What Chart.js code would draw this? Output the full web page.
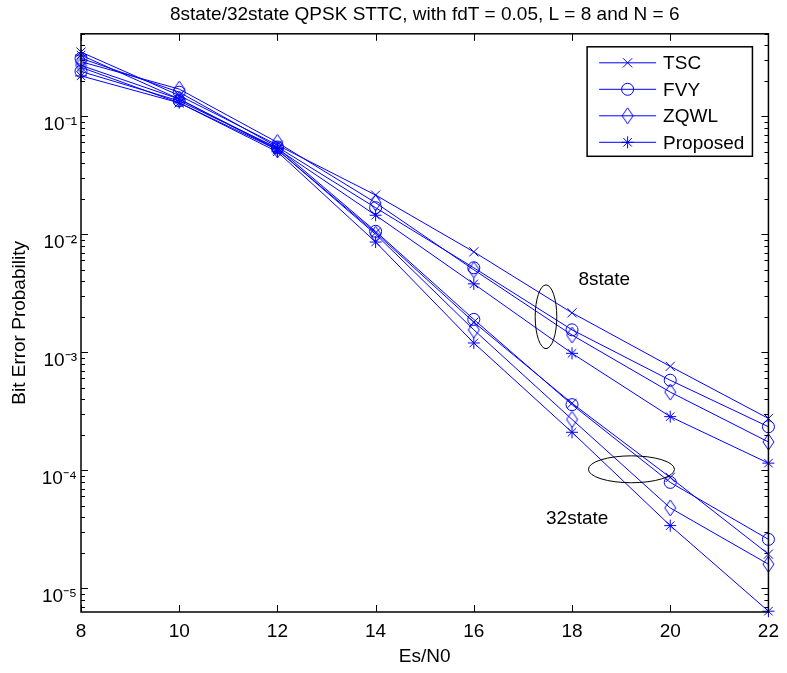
<!DOCTYPE html>
<html>
<head>
<meta charset="utf-8">
<script src="https://cdn.jsdelivr.net/npm/chart.js@4.4.1/dist/chart.umd.min.js"></script>
<style>
html,body{margin:0;padding:0;background:#fff;}
#wrap{width:787px;height:673px;}
</style>
</head>
<body>
<div id="wrap"><canvas id="c" width="787" height="673"></canvas></div>
<script>
// ---------- data ----------
const esn0 = [8, 10, 12, 14, 16, 18, 20, 22];
const tsc8   = [0.35, 0.15, 0.057, 0.0215, 0.0071, 0.00216, 0.00076, 0.000275];
const fvy8   = [0.31, 0.16, 0.055, 0.0168, 0.0052, 0.00155, 0.00058, 0.000234];
const zqwl8  = [0.29, 0.17, 0.060, 0.0185, 0.0050, 0.0014, 0.00046, 0.000174];
const prop8  = [0.33, 0.14, 0.053, 0.0145, 0.0038, 0.00098, 0.000285, 0.000115];
const tsc32  = [0.26, 0.13, 0.052, 0.0103, 0.0018, 0.00037, 0.000087, 0.0000195];
const fvy32  = [0.24, 0.135, 0.054, 0.0106, 0.0019, 0.00036, 0.000079, 0.000026];
const zqwl32 = [0.27, 0.14, 0.052, 0.0100, 0.00155, 0.00027, 0.000048, 0.000016];
const prop32 = [0.22, 0.13, 0.050, 0.0086, 0.0012, 0.00021, 0.000034, 0.0000064];

const methodNames = ['TSC', 'FVY', 'ZQWL', 'Proposed'];
const xTickValues = [8, 10, 12, 14, 16, 18, 20, 22];
const yTickValues = [1e-5, 1e-4, 1e-3, 1e-2, 1e-1];
const yTickLabels = ['10\u207B\u2075', '10\u207B\u2074', '10\u207B\u00B3', '10\u207B\u00B2', '10\u207B\u00B9'];
const titleText = '8state/32state QPSK STTC, with fdT = 0.05, L = 8 and N = 6';
const xTitle = 'Es/N0';
const yTitle = 'Bit Error Probability';
const annotationTexts = ['8state', '32state'];
const annotationX = [18.13, 17.47];
const annotationY = [0.00411, 0.0000388];
const ellipseCX = [17.47, 19.21];
const ellipseCY = [0.0020, 0.000102];
const ellipseHalfX = [0.22, 0.876];     // in Es/N0 units
const ellipseHalfDec = [0.27, 0.114];   // in decades

// ---------- styles ----------
const BLUE = '#0000FF';
const FONT = '"Liberation Sans", Arial, Helvetica, sans-serif';
function makeDiamond(w, h) {
  const c = document.createElement('canvas');
  c.width = w + 2; c.height = h + 2;
  const g = c.getContext('2d');
  g.strokeStyle = BLUE; g.lineWidth = 1;
  g.beginPath();
  g.moveTo(c.width / 2, 1);
  g.lineTo(c.width - 1, c.height / 2);
  g.lineTo(c.width / 2, c.height - 1);
  g.lineTo(1, c.height / 2);
  g.closePath();
  g.stroke();
  return c;
}
const diamondImg = makeDiamond(11, 16);
const markerStyles = [
  {pointStyle: 'crossRot', radius: 6.5},
  {pointStyle: 'circle', radius: 6},
  {pointStyle: diamondImg, radius: 8},
  {pointStyle: 'star', radius: 6}
];

const seriesValues = [tsc8, fvy8, zqwl8, prop8, tsc32, fvy32, zqwl32, prop32];
const seriesGroup = ['8state', '8state', '8state', '8state', '32state', '32state', '32state', '32state'];

const datasets = seriesValues.map((vals, i) => {
  const m = markerStyles[i % 4];
  return {
    label: methodNames[i % 4] + ' (' + seriesGroup[i] + ')',
    data: esn0.map((x, j) => ({x: x, y: vals[j]})),
    borderColor: BLUE,
    borderWidth: 1,
    pointStyle: m.pointStyle,
    pointRadius: m.radius,
    pointHoverRadius: m.radius,
    pointBorderColor: BLUE,
    pointBackgroundColor: 'rgba(0,0,0,0)',
    pointBorderWidth: 1,
    tension: 0,
    clip: false,
    fill: false
  };
});

// ---------- plugin: MATLAB-like box, inward ticks, ellipses, texts, legend ----------
const matlabDecor = {
  id: 'matlabDecor',
  afterDatasetsDraw(chart) {
    const {ctx, chartArea: a, scales: {x, y}} = chart;
    ctx.save();
    // axes box
    ctx.strokeStyle = '#000';
    ctx.lineWidth = 1.5;
    ctx.strokeRect(a.left, a.top, a.right - a.left, a.bottom - a.top);
    // ticks
    ctx.lineWidth = 1;
    ctx.beginPath();
    xTickValues.forEach(v => {
      const px = Math.round(x.getPixelForValue(v)) + 0.5;
      ctx.moveTo(px, a.bottom); ctx.lineTo(px, a.bottom - 7);
      ctx.moveTo(px, a.top); ctx.lineTo(px, a.top + 7);
    });
    for (let e = -7; e <= 0; e++) {
      for (let m = 1; m <= 9; m++) {
        const v = m * Math.pow(10, e);
        if (v < y.min || v > y.max) continue;
        const py = Math.round(y.getPixelForValue(v)) + 0.5;
        const L = (m === 1) ? 7 : 4;
        ctx.moveTo(a.left, py); ctx.lineTo(a.left + L, py);
        ctx.moveTo(a.right, py); ctx.lineTo(a.right - L, py);
      }
    }
    ctx.stroke();

    // ellipses
    ctx.strokeStyle = '#000';
    ctx.lineWidth = 1;
    for (let i = 0; i < ellipseCX.length; i++) {
      const cx = x.getPixelForValue(ellipseCX[i]);
      const cy = y.getPixelForValue(ellipseCY[i]);
      const rx = Math.abs(x.getPixelForValue(ellipseCX[i] + ellipseHalfX[i]) - cx);
      const ry = Math.abs(y.getPixelForValue(ellipseCY[i] * Math.pow(10, ellipseHalfDec[i])) - cy);
      ctx.beginPath();
      ctx.ellipse(cx, cy, rx, ry, 0, 0, Math.PI * 2);
      ctx.stroke();
    }

    // annotation texts
    ctx.fillStyle = '#000';
    ctx.font = '19px ' + FONT;
    ctx.textAlign = 'left';
    ctx.textBaseline = 'middle';
    for (let i = 0; i < annotationTexts.length; i++) {
      ctx.fillText(annotationTexts[i], x.getPixelForValue(annotationX[i]), y.getPixelForValue(annotationY[i]));
    }

    // legend
    ctx.font = '19px ' + FONT;
    let maxW = 0;
    methodNames.forEach(n => { maxW = Math.max(maxW, ctx.measureText(n).width); });
    const padL = 12, lineLen = 57, gap = 7, padR = 8, rowH = 26.5, padT = 16;
    const boxW = padL + lineLen + gap + maxW + padR;
    const boxH = padT * 2 + rowH * (methodNames.length - 1) - 2;
    const bx = a.right - 16 - boxW;
    const by = a.top + 13;
    ctx.fillStyle = '#fff';
    ctx.fillRect(bx, by, boxW, boxH);
    ctx.strokeStyle = '#000';
    ctx.lineWidth = 1.5;
    ctx.strokeRect(bx, by, boxW, boxH);
    methodNames.forEach((n, i) => {
      const ry = by + padT + i * rowH;
      ctx.strokeStyle = BLUE;
      ctx.lineWidth = 1;
      ctx.beginPath();
      ctx.moveTo(bx + padL, ry); ctx.lineTo(bx + padL + lineLen, ry);
      ctx.stroke();
      ctx.fillStyle = 'rgba(0,0,0,0)';
      Chart.helpers.drawPoint(ctx, {
        pointStyle: markerStyles[i].pointStyle,
        radius: markerStyles[i].radius,
        rotation: 0,
        borderWidth: 1
      }, bx + padL + lineLen / 2, ry);
      ctx.fillStyle = '#000';
      ctx.textAlign = 'left';
      ctx.textBaseline = 'middle';
      ctx.fillText(n, bx + padL + lineLen + gap, ry + 1);
    });
    ctx.restore();
  }
};

const tickFont = {family: FONT, size: 19};

new Chart(document.getElementById('c'), {
  type: 'line',
  data: {datasets: datasets},
  plugins: [matlabDecor],
  options: {
    responsive: false,
    animation: false,
    events: [],
    layout: {padding: {left: 0, right: 11, top: 0, bottom: 0}},
    plugins: {
      legend: {display: false},
      tooltip: {enabled: false},
      title: {
        display: true,
        text: titleText,
        fullSize: false,
        color: '#000',
        font: {family: FONT, size: 19, weight: 'normal'},
        padding: {top: 3, bottom: 8}
      }
    },
    scales: {
      x: {
        type: 'linear',
        min: 8,
        max: 22,
        afterBuildTicks: s => { s.ticks = xTickValues.map(v => ({value: v})); },
        afterFit: s => { s.height = 61; },
        grid: {display: false, drawTicks: false},
        border: {display: false},
        ticks: {color: '#000', font: tickFont, padding: 8, maxRotation: 0, autoSkip: false,
                callback: v => String(v)},
        title: {display: true, text: xTitle, color: '#000', font: tickFont, padding: {top: 0, bottom: 5}}
      },
      y: {
        type: 'logarithmic',
        min: 6.3e-6,
        max: 0.5,
        afterBuildTicks: s => { s.ticks = yTickValues.map(v => ({value: v})); },
        afterFit: s => { s.width = 81; },
        grid: {display: false, drawTicks: false},
        border: {display: false},
        ticks: {
          color: '#000', font: tickFont, padding: 4, labelOffset: 8, autoSkip: false,
          callback: (v) => {
            let best = 0, d = Infinity;
            yTickValues.forEach((t, i) => { const dd = Math.abs(Math.log10(t) - Math.log10(v)); if (dd < d) { d = dd; best = i; } });
            return yTickLabels[best];
          }
        },
        title: {display: true, text: yTitle, color: '#000', font: tickFont, padding: {top: 8, bottom: 0}}
      }
    }
  }
});
</script>
</body>
</html>
